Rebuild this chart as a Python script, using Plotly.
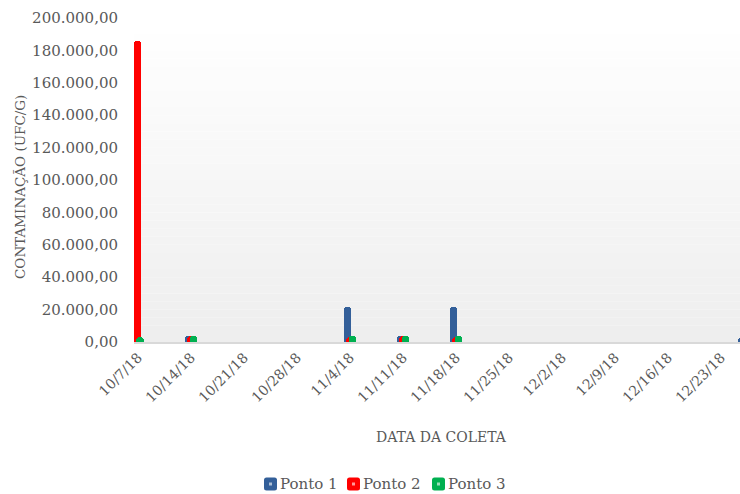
import pandas as pd
import plotly.graph_objects as go

# Sampling dates and contamination per collection point (UFC/g)
dates = ["2018-10-07", "2018-10-14", "2018-11-04", "2018-11-11", "2018-11-18", "2018-12-26"]
ponto1 = [20000, 3500, 21400, 3800, 21400, 2600]
ponto2 = [185500, 3500, 2900, 3800, 2900, 2600]
ponto3 = [3300, 3500, 3700, 3800, 3700, 2600]

series_names = ["Ponto 1", "Ponto 2", "Ponto 3"]
series_colors = ["#335f99", "#ff0000", "#00b050"]

tick_dates = pd.date_range("2018-10-07", "2018-12-23", freq="7D")

DAY_MS = 86400000
bar_width = 0.93 * DAY_MS
offsets = [-0.75 * DAY_MS, -0.47 * DAY_MS, -0.2 * DAY_MS]

font_family = "DejaVu Serif"
text_color = "#595959"

# plot area in pixels
PL, PR, PT, PB = 134, 740, 18, 342
PW, PH = PR - PL, PB - PT


def px_x(px):
    return (px - PL) / PW


def px_y(py):
    return (PB - py) / PH


def rounded_square(x0, y0, size, r):
    """SVG path (paper coords) for a rounded square with top-left pixel corner (x0, y0)."""
    x1, y1 = x0 + size, y0 + size
    pts = [
        f"M {px_x(x0 + r)},{px_y(y0)}",
        f"L {px_x(x1 - r)},{px_y(y0)}",
        f"Q {px_x(x1)},{px_y(y0)} {px_x(x1)},{px_y(y0 + r)}",
        f"L {px_x(x1)},{px_y(y1 - r)}",
        f"Q {px_x(x1)},{px_y(y1)} {px_x(x1 - r)},{px_y(y1)}",
        f"L {px_x(x0 + r)},{px_y(y1)}",
        f"Q {px_x(x0)},{px_y(y1)} {px_x(x0)},{px_y(y1 - r)}",
        f"L {px_x(x0)},{px_y(y0 + r)}",
        f"Q {px_x(x0)},{px_y(y0)} {px_x(x0 + r)},{px_y(y0)}",
        "Z",
    ]
    return " ".join(pts)


fig = go.Figure()
for name, vals, color, off in zip(series_names, [ponto1, ponto2, ponto3], series_colors, offsets):
    fig.add_trace(go.Bar(
        x=pd.to_datetime(dates), y=vals, name=name,
        width=bar_width, offset=off,
        marker=dict(color=color, line=dict(width=0), cornerradius="50%"),
        showlegend=False,
    ))

# Soft vertical gradient behind the plot area
n_bands = 40
for i in range(n_bands):
    t = i / (n_bands - 1)
    g = round(255 - t * 17)
    fig.add_shape(
        type="rect", xref="x domain", yref="y domain",
        x0=0, x1=1, y0=1 - (i + 1) / n_bands, y1=1 - i / n_bands,
        fillcolor=f"rgb({g},{g},{g})", line=dict(width=0), layer="below",
    )

# Legend row below the axis title: swatch with a light centre dot, then the name
annotations = []
legend_left = [264, 347, 432]
legend_cy = 484
sw = 13
for name, color, lx in zip(series_names, series_colors, legend_left):
    fig.add_shape(
        type="path", xref="paper", yref="paper",
        path=rounded_square(lx, legend_cy - sw / 2, sw, 2.5),
        fillcolor=color, line=dict(width=0),
    )
    fig.add_shape(
        type="rect", xref="paper", yref="paper",
        x0=px_x(lx + sw / 2 - 1.5), x1=px_x(lx + sw / 2 + 1.5),
        y0=px_y(legend_cy + 1.5), y1=px_y(legend_cy - 1.5),
        fillcolor="rgba(255,255,255,0.6)", line=dict(width=0),
    )
    annotations.append(dict(
        text=name, xref="paper", yref="paper", x=px_x(lx + sw + 1), y=px_y(legend_cy),
        xanchor="left", yanchor="middle", showarrow=False,
        font=dict(size=15, color=text_color),
    ))

annotations += [
    dict(text="CONTAMINAÇÃO (UFC/G)", xref="paper", yref="paper",
         x=px_x(20), y=px_y(187), xanchor="center", yanchor="middle",
         textangle=-90, showarrow=False, font=dict(size=13.5, color=text_color)),
    dict(text="DATA DA COLETA", xref="paper", yref="paper",
         x=px_x(441), y=px_y(437), xanchor="center", yanchor="middle",
         showarrow=False, font=dict(size=14, color=text_color)),
]

start = pd.Timestamp("2018-10-07")
x_range = [start - pd.Timedelta(hours=12.7), start + pd.Timedelta(days=79.5)]

fig.update_layout(
    width=740, height=494,
    margin=dict(l=PL, r=740 - PR, t=PT, b=494 - PB),
    paper_bgcolor="white", plot_bgcolor="white",
    barmode="overlay", bargap=0,
    separators=",.",
    font=dict(family=font_family, color=text_color, size=13),
    showlegend=False,
    xaxis=dict(
        type="date", range=x_range,
        tickvals=list(tick_dates), tickformat="%-m/%-d/%y",
        tickangle=-45, tickfont=dict(size=14, color=text_color),
        showgrid=False, zeroline=False,
        showline=True, linecolor="#d9d9d9", linewidth=2,
        ticks="",
    ),
    yaxis=dict(
        range=[0, 200000], tickvals=list(range(0, 200001, 20000)),
        tickformat=",.2f", tickfont=dict(size=15, color=text_color),
        showgrid=False, zeroline=False, showline=False, ticks="",
        ticklabelstandoff=15,
    ),
    annotations=annotations,
)

fig.write_html("out.html")
